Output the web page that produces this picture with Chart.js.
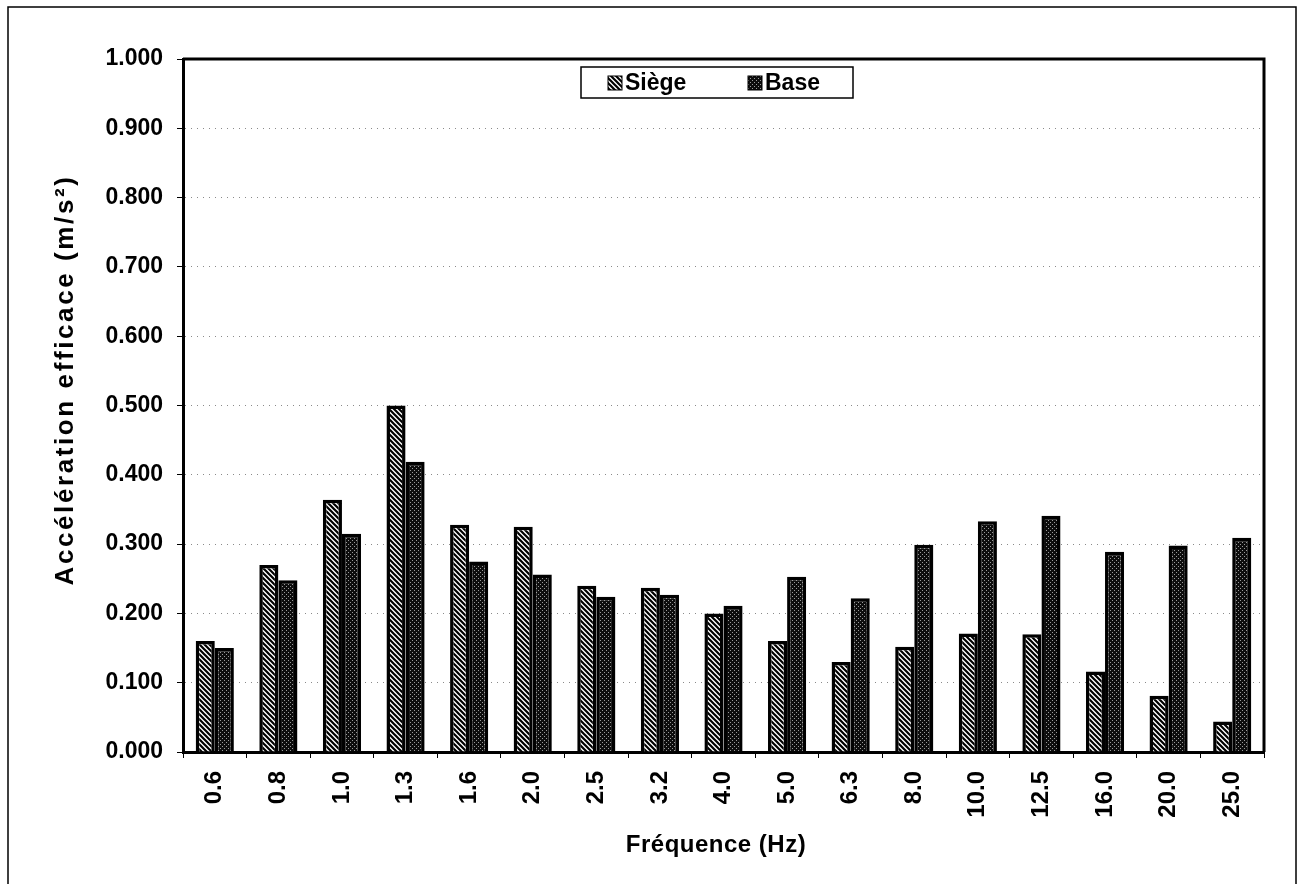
<!DOCTYPE html>
<html>
<head>
<meta charset="utf-8">
<script src="https://cdn.jsdelivr.net/npm/chart.js@4"></script>
<style>
  html, body { margin: 0; padding: 0; background: #fff; }
  #wrap { width: 1300px; height: 884px; }
</style>
</head>
<body>
<div id="wrap"><canvas id="vibChart" width="1300" height="884"></canvas></div>
<script>
const frequencies = ["0.6","0.8","1.0","1.3","1.6","2.0","2.5","3.2","4.0","5.0","6.3","8.0","10.0","12.5","16.0","20.0","25.0"];
const siege = [0.160, 0.270, 0.364, 0.500, 0.328, 0.325, 0.240, 0.237, 0.200, 0.160, 0.130, 0.152, 0.171, 0.170, 0.116, 0.081, 0.044];
const base  = [0.150, 0.248, 0.315, 0.419, 0.275, 0.256, 0.224, 0.227, 0.211, 0.253, 0.222, 0.299, 0.333, 0.341, 0.289, 0.298, 0.309];

const xTitle = "Fréquence (Hz)";
const yTitle = "Accélération efficace (m/s²)";

const FONT = "'Liberation Sans', Arial, sans-serif";

// hatched fill: white with black "\" stripes
function hatchPattern() {
  const c = document.createElement("canvas");
  c.width = 5; c.height = 5;
  const g = c.getContext("2d");
  g.fillStyle = "#fff";
  g.fillRect(0, 0, 5, 5);
  g.strokeStyle = "#000";
  g.lineWidth = 2.2;
  g.beginPath();
  g.moveTo(-2.5, 2.5); g.lineTo(2.5, 7.5);
  g.moveTo(0, 0); g.lineTo(5, 5);
  g.moveTo(2.5, -2.5); g.lineTo(7.5, 2.5);
  g.stroke();
  return g.createPattern(c, "repeat");
}

// dark fill sprinkled with light dots
function dotPattern() {
  const c = document.createElement("canvas");
  c.width = 4; c.height = 4;
  const g = c.getContext("2d");
  g.fillStyle = "#0d0d0d";
  g.fillRect(0, 0, 4, 4);
  g.fillStyle = "#9a9a9a";
  g.fillRect(0, 0, 1, 1);
  g.fillRect(2, 2, 1, 1);
  return g.createPattern(c, "repeat");
}

const siegeFill = hatchPattern();
const baseFill = dotPattern();

// outer frame, plot box, axis titles and boxed legend
const decorations = {
  id: "decorations",
  afterDraw(chart) {
    const ctx = chart.ctx;
    const a = chart.chartArea;
    ctx.save();
    ctx.strokeStyle = "#000";
    ctx.lineWidth = 1.5;
    ctx.beginPath();
    ctx.moveTo(8, 890); ctx.lineTo(8, 7); ctx.lineTo(1296, 7); ctx.lineTo(1296, 890);
    ctx.stroke();

    ctx.lineWidth = 3;
    ctx.beginPath();
    ctx.moveTo(a.left, a.top); ctx.lineTo(a.right, a.top); ctx.lineTo(a.right, a.bottom);
    ctx.stroke();

    // axis titles
    ctx.fillStyle = "#000";
    ctx.textAlign = "center";
    ctx.textBaseline = "middle";
    ctx.font = "bold 24px " + FONT;
    ctx.letterSpacing = "0.5px";
    ctx.fillText(xTitle, 716, 845);

    ctx.save();
    ctx.translate(66, 380);
    ctx.rotate(-Math.PI / 2);
    ctx.font = "bold 26px " + FONT;
    ctx.letterSpacing = "2.6px";
    ctx.fillText(yTitle, 0, 0);
    ctx.restore();
    ctx.letterSpacing = "0px";

    // legend box
    const bw = 272, bh = 31;
    const bx = 581;
    const by = a.top + 8;
    ctx.fillStyle = "#fff";
    ctx.fillRect(bx, by, bw, bh);
    ctx.lineWidth = 1.5;
    ctx.strokeRect(bx, by, bw, bh);

    const items = [
      { text: chart.data.datasets[0].label, fill: siegeFill, x: bx + 27 },
      { text: chart.data.datasets[1].label, fill: baseFill, x: bx + 167 }
    ];
    ctx.font = "bold 23px " + FONT;
    ctx.textAlign = "left";
    ctx.textBaseline = "middle";
    items.forEach(it => {
      ctx.fillStyle = it.fill;
      ctx.fillRect(it.x, by + 9, 14, 14);
      ctx.strokeStyle = "#000";
      ctx.lineWidth = 1;
      ctx.strokeRect(it.x, by + 9, 14, 14);
      ctx.fillStyle = "#000";
      ctx.fillText(it.text, it.x + 17, by + bh / 2 + 1);
    });
    ctx.restore();
  }
};

new Chart(document.getElementById("vibChart"), {
  type: "bar",
  data: {
    labels: frequencies,
    datasets: [
      {
        label: "Siège",
        data: siege,
        backgroundColor: siegeFill,
        borderColor: "#000",
        borderWidth: 3.5,
        barPercentage: 1,
        categoryPercentage: 0.6
      },
      {
        label: "Base",
        data: base,
        backgroundColor: baseFill,
        borderColor: "#000",
        borderWidth: 3.5,
        barPercentage: 1,
        categoryPercentage: 0.6
      }
    ]
  },
  options: {
    responsive: false,
    animation: false,
    layout: { padding: { top: 59, right: 36, left: 0, bottom: 0 } },
    plugins: {
      legend: { display: false },
      tooltip: { enabled: false }
    },
    scales: {
      x: {
        grid: {
          offset: true,
          drawOnChartArea: false,
          color: "#000",
          tickLength: 6
        },
        border: { color: "#000", width: 3 },
        ticks: {
          color: "#000",
          font: { family: FONT, size: 24, weight: "bold" },
          minRotation: 90,
          maxRotation: 90,
          padding: 13,
          autoSkip: false
        },
        afterFit(scale) { scale.height = 132; }
      },
      y: {
        min: 0,
        max: 1,
        grid: {
          color: "#8a8a8a",
          lineWidth: 1,
          tickColor: "#000",
          tickLength: 6
        },
        border: { color: "#000", width: 3, dash: [1, 5] },
        ticks: {
          stepSize: 0.1,
          color: "#000",
          font: { family: FONT, size: 23, weight: "bold" },
          padding: 14,
          callback: v => v.toFixed(3)
        },
        afterFit(scale) { scale.width = 183; }
      }
    }
  },
  plugins: [decorations]
});
</script>
</body>
</html>
